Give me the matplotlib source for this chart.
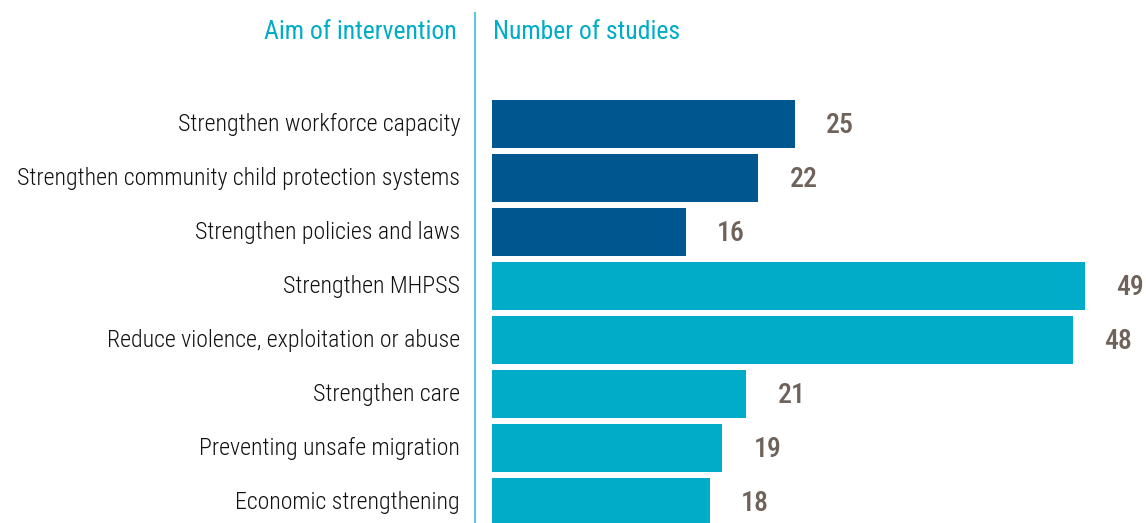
import matplotlib
matplotlib.use("Agg")
import matplotlib.pyplot as plt

aims = ["Strengthen workforce capacity",
        "Strengthen community child protection systems",
        "Strengthen policies and laws",
        "Strengthen MHPSS",
        "Reduce violence, exploitation or abuse",
        "Strengthen care",
        "Preventing unsafe migration",
        "Economic strengthening"]
studies = [25, 22, 16, 49, 48, 21, 19, 18]
groups = ["system", "system", "system", "child", "child", "child", "child", "child"]

colours = {"system": "#00568e", "child": "#00acc8"}
font = ["Roboto Condensed", "Roboto", "DejaVu Sans"]

fig = plt.figure(figsize=(11.46, 5.23), dpi=100)
W, H = 1146, 523
ax = fig.add_axes([492 / W, 0, 1 - 492 / W, 1])

y = list(range(len(aims)))
ax.barh(y, studies, height=0.89, color=[colours[g] for g in groups])
ax.set_xlim(0, (W - 492) / 12.1)
ax.set_ylim((H - 124) / 54, -124 / 54)
ax.axis("off")

for yi, v, name in zip(y, studies, aims):
    ax.text(v + 2.6, yi + 0.02, str(v), ha="left", va="center", fontsize=20,
            color="#6e625a", family=font, fontweight="medium")
    ax.text(-32 / 12.1, yi, name, ha="right", va="center", fontsize=17.2,
            color="#111111", family=font, fontweight="light")

fig.text(457 / W, 1 - 32 / H, "Aim of intervention", ha="right", va="center",
         fontsize=18.5, color="#00acc8", family=font)
fig.text(493 / W, 1 - 32 / H, "Number of studies", ha="left", va="center",
         fontsize=18.5, color="#00acc8", family=font)
fig.add_artist(plt.Line2D([475 / W, 475 / W], [0, 1 - 13 / H],
                          transform=fig.transFigure, color="#5cc8dc", lw=1.5))

fig.savefig("out.png", dpi=100)
